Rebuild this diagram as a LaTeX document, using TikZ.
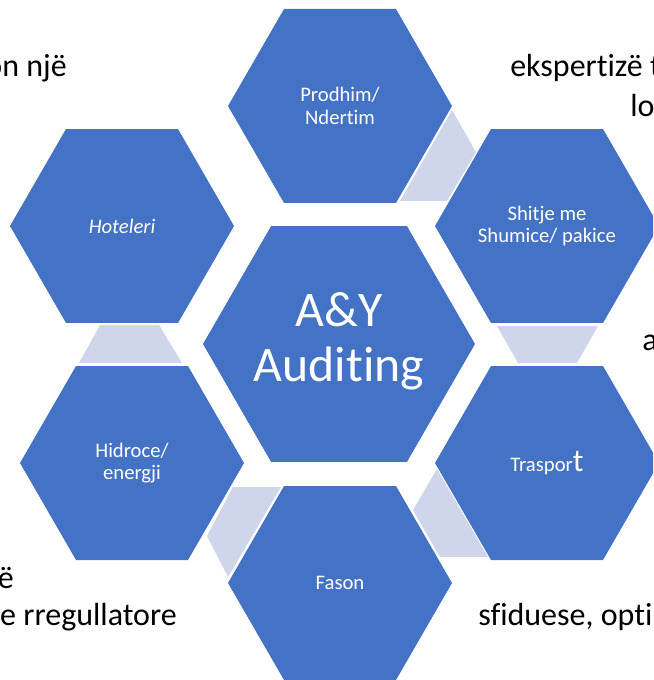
\documentclass[tikz,border=0pt]{standalone}
\usepackage{fontspec}
\setmainfont{Carlito}[Ligatures={NoCommon}]
\definecolor{hexblue}{RGB}{68,114,196}
\definecolor{linkcol}{RGB}{207,213,234}
\newcommand\hexat[3]{\fill[hexfill, shift={(#1,#2)}] (0:#3) -- (60:#3) -- (120:#3) -- (180:#3) -- (240:#3) -- (300:#3) -- cycle;}
\begin{document}
\begin{tikzpicture}[x=0.75pt,y=-0.75pt,
  hexfill/.style={fill=hexblue},
  linkfill/.style={fill=linkcol},
  hexlabel/.style={text=white, align=center, inner sep=0pt, font=\fontsize{15.5}{16.7}\selectfont},
  biglabel/.style={text=white, align=center, inner sep=0pt, font=\fontsize{37.3}{41.2}\selectfont},
  bgtext/.style={text=black, inner sep=0pt, font=\fontsize{24}{29}\selectfont}]
\useasboundingbox (0,0) rectangle (653,680);
\clip (0,0) rectangle (653,680);
% background text fragments
\node[bgtext, anchor=base east] (t1) at (67,77) {on një};
\node[bgtext, anchor=base west] (t2) at (510,77) {ekspertizë t};
\node[bgtext, anchor=base west] (t3) at (630,117) {lo};
\node[bgtext, anchor=base west] (t4) at (642,350) {a};
\node[bgtext, anchor=base east] (t5) at (14,588) {ë};
\node[bgtext, anchor=base east] (t6) at (177,625) {e rregullatore};
\node[bgtext, anchor=base west] (t7) at (478,625) {sfiduese, opti};
% hexagons
\hexat{339}{344}{136}
\hexat{340}{106}{112}
\hexat{547}{226}{112}
\hexat{547}{463}{112}
\hexat{340}{583}{112}
\hexat{132}{463}{112}
\hexat{122}{226}{112}
% link shapes
\fill[linkfill] (452,110) -- (476,152) -- (447,201) -- (400,201) -- cycle;
\fill[linkfill] (497,326) -- (598,326) -- (577,363) -- (518,363) -- cycle;
\fill[linkfill] (437,469) -- (488,557) -- (440,557) -- (413,510) -- cycle;
\fill[linkfill] (233,487) -- (281,487) -- (228,577) -- (207,536) -- cycle;
\fill[linkfill] (100,325) -- (159,325) -- (182,363) -- (79,363) -- cycle;
% labels
\node[biglabel] (center) at (339,341) {A\&Y\\Auditing};
\node[hexlabel] (prodhim) at (340,106) {Prodhim/\\Ndertim};
\node[hexlabel] (shitje) at (547,226) {Shitje me\\Shumice/ pakice};
\node[hexlabel] (trasport) at (547,463) {Traspor{\fontsize{24}{24}\selectfont t}};
\node[hexlabel] (fason) at (340,583) {Fason};
\node[hexlabel] (hidroce) at (132,463) {Hidroce/\\energji};
\node[hexlabel] (hoteleri) at (122,226) {\itshape Hoteleri};
\end{tikzpicture}
\end{document}
